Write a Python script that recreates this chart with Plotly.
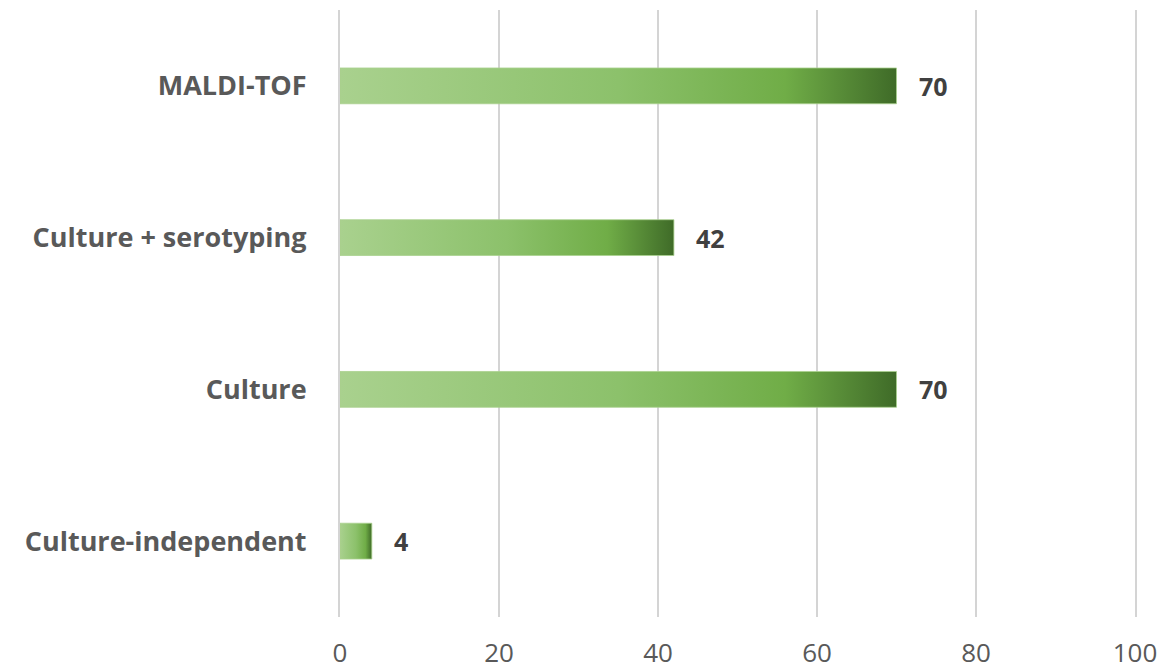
import plotly.graph_objects as go

categories = ["Culture-independent", "Culture", "Culture + serotyping", "MALDI-TOF"]
values = [4, 70, 42, 70]
x_ticks = [0, 20, 40, 60, 80, 100]

BAR_HALF = 0.118
FONT = "Open Sans"
GRAD = [[0, "#a9d18e"], [0.5, "#8cc16b"], [0.8, "#70ad47"], [1, "#3f6b28"]]

fig = go.Figure()
for i, (cat, v) in enumerate(zip(categories, values)):
    fig.add_trace(go.Scatter(
        x=[0, v, v, 0, 0],
        y=[i - BAR_HALF, i - BAR_HALF, i + BAR_HALF, i + BAR_HALF, i - BAR_HALF],
        mode="lines",
        fill="toself",
        fillgradient=dict(type="horizontal", colorscale=GRAD),
        line=dict(color="#a9d18e", width=0.8),
        hoverinfo="skip",
        showlegend=False,
    ))

for i, v in enumerate(values):
    fig.add_annotation(
        x=v, y=i, xref="x", yref="y", text=f"<b>{v}</b>",
        showarrow=False, xanchor="left", yanchor="middle", xshift=20,
        font=dict(family=FONT, size=25, color="#404040"),
    )

fig.update_layout(
    width=1167, height=671,
    margin=dict(l=332, r=40, t=2, b=62),
    plot_bgcolor="white", paper_bgcolor="white",
    font=dict(family=FONT, color="#595959"),
)
fig.update_xaxes(
    range=[0, 100], tickvals=x_ticks, ticktext=[str(t) for t in x_ticks],
    showgrid=True, gridcolor="#d4d4d4", gridwidth=2,
    zeroline=False, showline=False,
    tickfont=dict(family=FONT, size=26, color="#595959"),
    ticklabelstandoff=18,
)
fig.update_yaxes(
    range=[-0.5, 3.5], tickvals=list(range(len(categories))), ticktext=categories,
    showgrid=False, zeroline=False,
    showline=True, linecolor="#d4d4d4", linewidth=2, mirror=True,
    tickfont=dict(family=FONT, size=27, color="#595959", weight="bold"),
    ticklabelstandoff=26,
)
fig.write_html("out.html")
